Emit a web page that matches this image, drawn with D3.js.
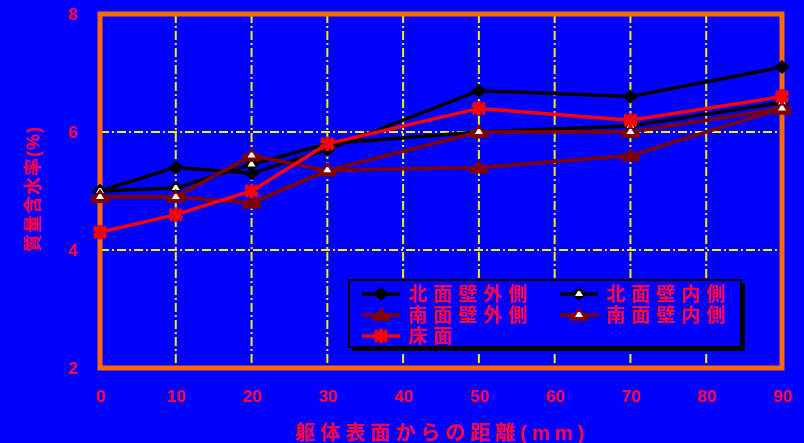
<!DOCTYPE html>
<html>
<head>
<meta charset="utf-8">
<script src="https://cdn.jsdelivr.net/npm/d3@7/dist/d3.min.js"></script>
<style>
  html, body { margin: 0; padding: 0; background: #0000ff; }
  svg { display: block; }
</style>
</head>
<body>
<svg id="chart" width="804" height="443"></svg>
<script>
// Distance from the wall surface (mm)
const distances = [0, 10, 20, 30, 50, 70, 90];

// Moisture content by mass (%)
const northOuter = [5.0, 5.4, 5.3, 5.7, 6.7, 6.6, 7.1];
const northInner = [5.0, 5.05, 5.45, 5.8, 6.0, 6.1, 6.5];
const southOuter = [4.9, 4.9, 4.8, 5.35, 5.4, 5.6, 6.4];
const southInner = [4.9, 4.9, 5.6, 5.35, 6.0, 6.0, 6.4];
const floorSide  = [4.3, 4.6, 5.0, 5.8, 6.4, 6.2, 6.6];

const seriesNames = ["北面壁外側", "北面壁内側", "南面壁外側", "南面壁内側", "床面"];

const xTicks = [0, 10, 20, 30, 40, 50, 60, 70, 80, 90];
const yTicks = [2, 4, 6, 8];
const gridX = [10, 20, 30, 40, 50, 60, 70, 80];
const gridY = [4, 6];

const xTitle = "躯体表面からの距離(mm)";
const yTitle = "質量含水率(%)";

const textColor = "#ff0040";
const font = "'Liberation Sans', 'Noto Sans CJK JP', sans-serif";

const svg = d3.select("#chart");
const x = d3.scaleLinear().domain([0, 90]).range([100, 782]);
const y = d3.scaleLinear().domain([2, 8]).range([368, 14]);

// background
svg.append("rect").attr("width", 804).attr("height", 443).attr("fill", "#0000ff");

// dash-dot grid
const grid = svg.append("g").attr("stroke", "#f0f000").attr("stroke-width", 2)
  .attr("stroke-dasharray", "9,3,2,3");
grid.selectAll("line.gx").data(gridX).join("line")
  .attr("x1", d => x(d)).attr("x2", d => x(d))
  .attr("y1", y(8)).attr("y2", y(2));
grid.selectAll("line.gy").data(gridY).join("line")
  .attr("x1", x(0)).attr("x2", x(90))
  .attr("y1", d => y(d)).attr("y2", d => y(d));

// axes with tick labels only
const xAxis = svg.append("g").attr("transform", `translate(0,${y(2)})`)
  .call(d3.axisBottom(x).tickValues(xTicks).tickFormat(d3.format("d")).tickSize(0).tickPadding(22));
const yAxis = svg.append("g").attr("transform", `translate(${x(0)},0)`)
  .call(d3.axisLeft(y).tickValues(yTicks).tickFormat(d3.format("d")).tickSize(0).tickPadding(24));
[xAxis, yAxis].forEach(a => {
  a.select(".domain").remove();
  a.selectAll("text").attr("fill", textColor).attr("font-family", font)
    .attr("font-weight", "bold").attr("font-size", 17);
});
yAxis.selectAll("text").attr("text-anchor", "middle").attr("dx", "-0.2em").attr("dy", "0.35em");

// orange frame
svg.append("rect")
  .attr("x", x(0)).attr("y", y(8))
  .attr("width", x(90) - x(0)).attr("height", y(2) - y(8))
  .attr("fill", "none").attr("stroke", "#ff6a00").attr("stroke-width", 5);

// axis titles
svg.append("text").attr("x", 442).attr("y", 440).attr("text-anchor", "middle")
  .attr("fill", textColor).attr("font-family", font).attr("font-weight", "bold")
  .attr("font-size", 20).attr("letter-spacing", 5).text(xTitle);
svg.append("text").attr("transform", "translate(39,189) rotate(-90)").attr("text-anchor", "middle")
  .attr("fill", textColor).attr("font-family", font).attr("font-weight", "bold")
  .attr("font-size", 18).attr("letter-spacing", 1).text(yTitle);

// marker outlines
const diamondPath = "M-8,0L0,-7L8,0L0,7Z";
const trianglePath = "M0,-8L4,-2L9,-2L9,6L-9,6L-9,-2L-4,-2Z";

const series = [
  { name: seriesNames[0], values: northOuter, color: "#000000", shape: diamondPath, hollow: false },
  { name: seriesNames[1], values: northInner, color: "#000000", shape: diamondPath, hollow: true },
  { name: seriesNames[2], values: southOuter, color: "#800000", shape: trianglePath, hollow: false },
  { name: seriesNames[3], values: southInner, color: "#800000", shape: trianglePath, hollow: true },
  { name: seriesNames[4], values: floorSide,  color: "#ff0000", shape: "star", hollow: false }
];

function drawMarker(g, s) {
  if (s.shape === "star") {
    g.append("path").attr("d", d3.symbol(d3.symbolAsterisk, 150)())
      .attr("stroke", s.color).attr("stroke-width", 4).attr("fill", "none");
    g.append("path").attr("d", d3.symbol(d3.symbolX, 90)())
      .attr("stroke", s.color).attr("stroke-width", 3).attr("fill", "none");
  } else {
    g.append("path").attr("d", s.shape).attr("fill", s.color);
    if (s.hollow) {
      g.append("path").attr("d", "M-1,-3L1,-3L4,2L-4,2Z")
        .attr("fill", "#ffffff");
    }
  }
}

const line = d3.line().x(d => x(d[0])).y(d => y(d[1]));
series.forEach(s => {
  const pts = distances.map((d, i) => [d, s.values[i]]);
  const g = svg.append("g");
  g.append("path").datum(pts).attr("d", line)
    .attr("fill", "none").attr("stroke", s.color).attr("stroke-width", 3.5);
  pts.forEach(p => {
    const m = g.append("g").attr("transform", `translate(${x(p[0])},${y(p[1])})`);
    drawMarker(m, s);
  });
});

// legend
const lg = svg.append("g");
lg.append("rect").attr("x", 352).attr("y", 283).attr("width", 393).attr("height", 68).attr("fill", "#000000");
lg.append("rect").attr("x", 349).attr("y", 280).attr("width", 392).attr("height", 67)
  .attr("fill", "#0000ff").attr("stroke", "#000000").attr("stroke-width", 2);
const legendPos = [[362, 294], [560, 294], [362, 315], [560, 315], [362, 336]];
series.forEach((s, i) => {
  const [lx, ly] = legendPos[i];
  const g = lg.append("g");
  g.append("line").attr("x1", lx).attr("x2", lx + 38).attr("y1", ly).attr("y2", ly)
    .attr("stroke", s.color).attr("stroke-width", 3.5);
  const m = g.append("g").attr("transform", `translate(${lx + 19},${ly})`);
  drawMarker(m, s);
  g.append("text").attr("x", lx + 46).attr("y", ly + 7)
    .attr("fill", textColor).attr("font-family", font).attr("font-weight", "bold")
    .attr("font-size", 19).attr("letter-spacing", 6).text(s.name);
});
</script>
</body>
</html>
